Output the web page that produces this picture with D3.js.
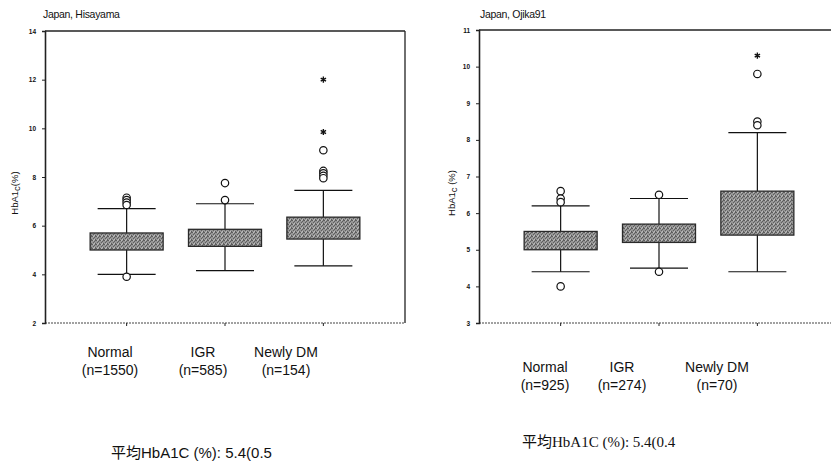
<!DOCTYPE html>
<html>
<head>
<meta charset="utf-8">
<script src="https://cdn.jsdelivr.net/npm/d3@7"></script>
<style>
  html, body { margin: 0; padding: 0; background: #fff; }
  svg { display: block; }
</style>
</head>
<body>
<svg id="chart" width="831" height="468"></svg>
<script>
// Box-plot data: HbA1c distribution by glucose tolerance group
const categories = ["Normal", "IGR", "Newly DM"];

// Hisayama cohort
const hisayamaN = [1550, 585, 154];
const hisayamaLow = [4.0, 4.15, 4.35];
const hisayamaQ1 = [5.0, 5.15, 5.45];
const hisayamaQ3 = [5.7, 5.85, 6.35];
const hisayamaHigh = [6.7, 6.9, 7.45];
const hisayamaOutliers = [[7.15, 7.05, 6.95, 6.85, 3.9], [7.05, 7.75], [9.1, 8.25, 8.15, 8.05, 7.95]];
const hisayamaExtremes = [[], [], [12.0, 9.85]];
const hisayamaTicks = [2, 4, 6, 8, 10, 12, 14];

// Ojika91 cohort
const ojikaN = [925, 274, 70];
const ojikaLow = [4.4, 4.5, 4.4];
const ojikaQ1 = [5.0, 5.2, 5.4];
const ojikaQ3 = [5.5, 5.7, 6.6];
const ojikaHigh = [6.2, 6.4, 8.2];
const ojikaOutliers = [[6.6, 6.4, 6.3, 4.0], [6.5, 4.4], [9.8, 8.5, 8.4]];
const ojikaExtremes = [[], [], [10.3]];
const ojikaTicks = [3, 4, 5, 6, 7, 8, 9, 10, 11];

const svg = d3.select("#chart");
svg.append("rect").attr("width", 831).attr("height", 468).attr("fill", "#fff");

// stippled grey fill for the boxes
const defs = svg.append("defs");
const pat = defs.append("pattern").attr("id", "stipple")
  .attr("patternUnits", "userSpaceOnUse").attr("width", 4).attr("height", 4);
pat.append("rect").attr("width", 4).attr("height", 4).attr("fill", "#969696");
[[0, 0], [2, 1], [1, 2], [3, 3], [3, 0]].forEach(([px, py]) =>
  pat.append("rect").attr("x", px).attr("y", py).attr("width", 1).attr("height", 1).attr("fill", "#5e5e5e"));
[[1, 0], [2, 3]].forEach(([px, py]) =>
  pat.append("rect").attr("x", px).attr("y", py).attr("width", 1).attr("height", 1).attr("fill", "#bdbdbd"));

function drawPanel(cfg) {
  const g = svg.append("g");
  const y = d3.scaleLinear().domain(cfg.domain).range([cfg.bottom, cfg.top]);
  const x = d3.scalePoint().domain(categories).range([cfg.left, cfg.right]).padding(0.83);
  const boxW = 73, capW = 58;

  // title
  g.append("text").attr("x", cfg.titleX).attr("y", 18)
    .attr("font-family", "Liberation Sans, Arial, sans-serif").attr("font-size", 10.5)
    .attr("letter-spacing", -0.3).attr("fill", "#111").text(cfg.title);

  // frame
  g.append("line").attr("x1", cfg.left).attr("x2", cfg.right).attr("y1", cfg.top).attr("y2", cfg.top)
    .attr("stroke", "#222").attr("stroke-width", 1.3);
  g.append("line").attr("x1", cfg.right).attr("x2", cfg.right).attr("y1", cfg.top).attr("y2", cfg.bottom)
    .attr("stroke", "#222").attr("stroke-width", 1.3);
  g.append("line").attr("x1", cfg.left).attr("x2", cfg.right).attr("y1", cfg.bottom).attr("y2", cfg.bottom)
    .attr("stroke", "#444").attr("stroke-width", 1.1).attr("stroke-dasharray", "2,1");

  // y axis
  const ax = g.append("g").attr("transform", `translate(${cfg.left},0)`)
    .call(d3.axisLeft(y).tickValues(cfg.ticks).tickSize(3).tickPadding(6).tickFormat(d3.format("d")));
  ax.select(".domain").attr("stroke", "#222").attr("stroke-width", 1.6);
  ax.selectAll(".tick line").attr("stroke", "#222");
  ax.selectAll(".tick text").attr("font-family", "Liberation Sans, Arial, sans-serif")
    .attr("font-size", 6.5).attr("font-weight", "bold").attr("fill", "#111");

  // x ticks
  g.selectAll(".xt").data(categories).join("line")
    .attr("x1", d => x(d)).attr("x2", d => x(d))
    .attr("y1", cfg.bottom).attr("y2", cfg.bottom + 3).attr("stroke", "#222");

  // y label
  const yl = g.append("text")
    .attr("transform", `translate(${cfg.yLabelX},193) rotate(-90)`)
    .attr("text-anchor", "middle")
    .attr("font-family", "Liberation Sans, Arial, sans-serif").attr("font-size", 9.5)
    .attr("fill", "#111");
  yl.append("tspan").text("HbA1");
  yl.append("tspan").attr("dy", 1.5).text("c");
  yl.append("tspan").attr("dy", -1.5).text(cfg.yLabelTail);

  const idx = d3.range(categories.length);

  // whiskers
  idx.forEach(i => {
    const cx = x(categories[i]);
    g.append("line").attr("x1", cx).attr("x2", cx)
      .attr("y1", y(cfg.low[i])).attr("y2", y(cfg.q1[i])).attr("stroke", "#111").attr("stroke-width", 1.2);
    g.append("line").attr("x1", cx).attr("x2", cx)
      .attr("y1", y(cfg.q3[i])).attr("y2", y(cfg.high[i])).attr("stroke", "#111").attr("stroke-width", 1.2);
    [cfg.low[i], cfg.high[i]].forEach(v => {
      g.append("line").attr("x1", cx - capW / 2).attr("x2", cx + capW / 2)
        .attr("y1", y(v)).attr("y2", y(v)).attr("stroke", "#111").attr("stroke-width", 1.2);
    });
  });

  // boxes
  g.selectAll(".box").data(idx).join("rect")
    .attr("x", i => x(categories[i]) - boxW / 2)
    .attr("width", boxW)
    .attr("y", i => y(cfg.q3[i]))
    .attr("height", i => y(cfg.q1[i]) - y(cfg.q3[i]))
    .attr("fill", "url(#stipple)").attr("stroke", "#2a2a2a").attr("stroke-width", 1.3);

  // outliers
  idx.forEach(i => {
    const cx = x(categories[i]);
    g.selectAll(null).data(cfg.outliers[i]).join("circle")
      .attr("cx", cx).attr("cy", v => y(v)).attr("r", 3.7)
      .attr("fill", "#fff").attr("stroke", "#111").attr("stroke-width", 1.2);
    g.selectAll(null).data(cfg.extremes[i]).join("path")
      .attr("d", d3.symbol(d3.symbolAsterisk, 26))
      .attr("transform", v => `translate(${cx},${y(v)})`)
      .attr("fill", "none").attr("stroke", "#111").attr("stroke-width", 1.4);
  });

  // category labels with group sizes
  idx.forEach(i => {
    const t = g.append("text").attr("text-anchor", "middle")
      .attr("font-family", "Liberation Sans, Arial, sans-serif").attr("font-size", 14)
      .attr("fill", "#111");
    t.append("tspan").attr("x", cfg.labelX[i]).attr("y", cfg.labelY).text(categories[i]);
    t.append("tspan").attr("x", cfg.labelX[i]).attr("y", cfg.labelY + 17.5).text(`(n=${cfg.n[i]})`);
  });

  // mean note
  const note = g.append("text").attr("x", cfg.noteX).attr("y", cfg.noteY)
    .attr("font-size", cfg.noteSize).attr("fill", "#111");
  note.append("tspan").attr("font-family", "Noto Sans CJK JP, sans-serif").text("平均");
  note.append("tspan").attr("font-family", cfg.noteFont).text(cfg.noteText);
}

drawPanel({
  title: "Japan, Hisayama", titleX: 43,
  left: 45, right: 405, top: 31, bottom: 323,
  domain: [2, 14], ticks: hisayamaTicks,
  yLabelX: 18, yLabelTail: "(%)",
  n: hisayamaN, low: hisayamaLow, q1: hisayamaQ1, q3: hisayamaQ3, high: hisayamaHigh,
  outliers: hisayamaOutliers, extremes: hisayamaExtremes,
  labelX: [110, 203, 286], labelY: 357,
  noteX: 111, noteY: 458, noteSize: 15,
  noteFont: "Liberation Sans, Arial, sans-serif", noteText: "HbA1C (%): 5.4(0.5"
});

drawPanel({
  title: "Japan, Ojika91", titleX: 480,
  left: 479, right: 839, top: 30, bottom: 323,
  domain: [3, 11], ticks: ojikaTicks,
  yLabelX: 455, yLabelTail: " (%)",
  n: ojikaN, low: ojikaLow, q1: ojikaQ1, q3: ojikaQ3, high: ojikaHigh,
  outliers: ojikaOutliers, extremes: ojikaExtremes,
  labelX: [545, 622, 717], labelY: 372,
  noteX: 522, noteY: 447, noteSize: 15,
  noteFont: "Liberation Serif, Times New Roman, serif", noteText: "HbA1C (%): 5.4(0.4"
});
</script>
</body>
</html>
